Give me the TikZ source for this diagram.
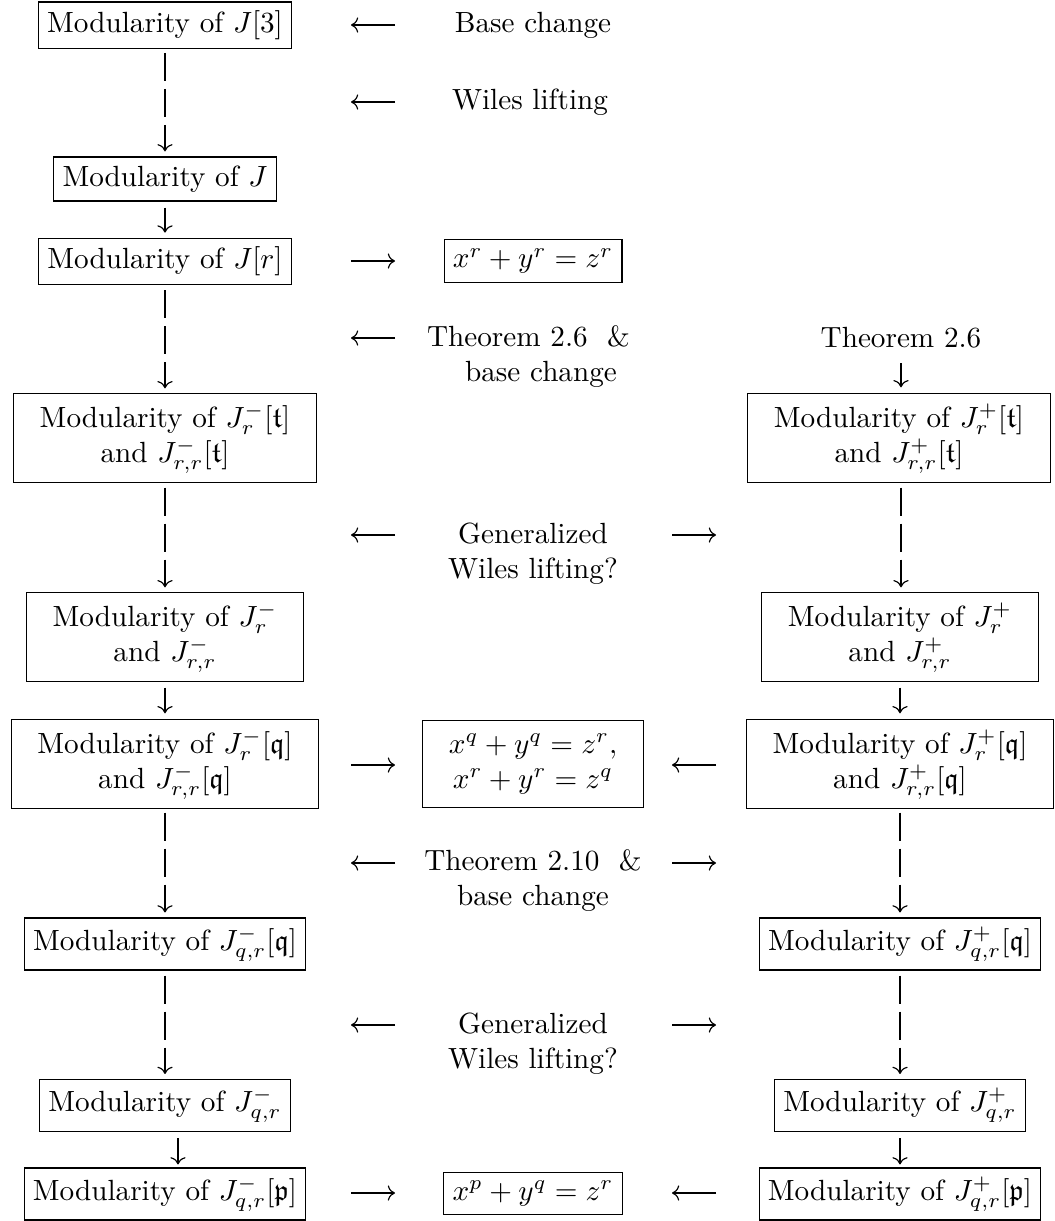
\documentclass[tikz,border=0pt]{standalone}
\usepackage{amsmath,amssymb}
\usetikzlibrary{arrows.meta}
\begin{document}
\begin{tikzpicture}[x=0.3425pt,y=-0.3425pt,
  box/.style={draw,line width=0.4pt,inner sep=3pt},
  tbox/.style={draw,line width=0.4pt,align=center,inner xsep=9pt,inner ysep=3pt},
  lbl/.style={inner sep=0pt,align=center},
  arr/.style={line width=0.4pt,-{Computer Modern Rightarrow}},
  dconn/.style={arr,dash pattern=on 9.59pt off 2.74pt},
]
\useasboundingbox (0,0) rectangle (1054,1221);

% ---- boxes, left column
\node[box] (j3) at (165,25.3) {Modularity of $J[3]$};
\node[box] (j) at (165,179) {Modularity of $J$};
\node[box] (jr) at (165,261.5) {Modularity of $J[r]$};
\node[tbox] (jmt) at (165,438) {\strut Modularity of $J_r^-[\mathfrak{t}]$\\\strut and $J_{r,r}^-[\mathfrak{t}]$};
\node[tbox] (jm) at (165,637) {\strut Modularity of $J_r^-$\\\strut and $J_{r,r}^-$};
\node[tbox] (jmq) at (165,764) {\strut Modularity of $J_r^-[\mathfrak{q}]$\\\strut and $J_{r,r}^-[\mathfrak{q}]$};
\node[box] (jmqq) at (165,944) {Modularity of $J_{q,r}^-[\mathfrak{q}]$};
\node[box] (jmqr) at (165,1105.5) {Modularity of $J_{q,r}^-$};
\node[box] (jmp) at (165,1194) {Modularity of $J_{q,r}^-[\mathfrak{p}]$};

% ---- boxes, right column
\node[tbox] (jpt) at (899,438) {\strut Modularity of $J_r^+[\mathfrak{t}]$\\\strut and $J_{r,r}^+[\mathfrak{t}]$};
\node[tbox] (jp) at (900,637) {\strut Modularity of $J_r^+$\\\strut and $J_{r,r}^+$};
\node[tbox] (jpq) at (900,764) {\strut Modularity of $J_r^+[\mathfrak{q}]$\\\strut and $J_{r,r}^+[\mathfrak{q}]$};
\node[box] (jpqq) at (900,944) {Modularity of $J_{q,r}^+[\mathfrak{q}]$};
\node[box] (jpqr) at (900,1105.5) {Modularity of $J_{q,r}^+$};
\node[box] (jpp) at (900,1194) {Modularity of $J_{q,r}^+[\mathfrak{p}]$};

% ---- centre column
\node[box] (fr) at (533,261) {$x^r+y^r=z^r$};
\node[tbox] (cq) at (533,764) {\strut$x^q+y^q=z^r,$\\\strut$x^r+y^r=z^q$};
\node[box] (fp) at (533,1193.5) {$x^p+y^q=z^r$};

% ---- labels
\node[lbl] (bc) at (533,25) {Base change};
\node[lbl] (wl) at (530,102) {Wiles lifting};
\node[lbl,align=left] (t26) at (528.5,356.5) {Theorem 2.6\ \ \&\\\hspace*{13pt}base change};
\node[lbl] (t26r) at (901,338) {Theorem 2.6};
\node[lbl] (g1) at (533,554) {Generalized\\Wiles lifting?};
\node[lbl] (t210) at (533,880.5) {Theorem 2.10\ \ \&\\base change};
\node[lbl] (g2) at (533,1043.5) {Generalized\\Wiles lifting?};

% ---- vertical connectors, left
\draw[dconn,shorten <=1.27pt,shorten >=1.7pt] (j3) -- (j);
\draw[arr,shorten <=2.05pt,shorten >=1.7pt] (j) -- (jr);
\draw[dconn,shorten <=1.7pt,shorten >=1.7pt] (jr) -- (jmt);
\draw[dconn,shorten <=1.7pt,shorten >=1.7pt] (jmt) -- (jm);
\draw[arr,shorten <=2.05pt,shorten >=2.05pt] (jm) -- (jmq);
\draw[dconn,shorten <=1.37pt,shorten >=1.7pt] (jmq) -- (jmqq);
\draw[dconn,shorten <=1.7pt,shorten >=1.7pt] (jmqq) -- (jmqr);
\draw[arr,shorten <=2.05pt,shorten >=1.03pt] ([xshift=4.45pt]jmqr.south) -- ([xshift=4.45pt]jmp.north);

% ---- vertical connectors, right
\draw[arr,shorten <=4.8pt,shorten >=2.05pt] (t26r.south) -- (jpt.north -| t26r.south);
\draw[dconn,shorten <=1.7pt,shorten >=1.7pt] (jpt.south -| t26r.south) -- (jp.north -| t26r.south);
\draw[arr,shorten <=2.05pt,shorten >=2.05pt] (jp) -- (jpq);
\draw[dconn,shorten <=1.37pt,shorten >=1.7pt] (jpq) -- (jpqq);
\draw[dconn,shorten <=1.7pt,shorten >=1.7pt] (jpqq) -- (jpqr);
\draw[arr,shorten <=2.05pt,shorten >=1.03pt] (jpqr) -- (jpp);

% ---- horizontal arrows (free ends as coordinates)
\coordinate (l1a) at (351,25);   \coordinate (l1b) at (395,25);
\coordinate (l2a) at (351,102);  \coordinate (l2b) at (395,102);
\coordinate (l3a) at (351,261);  \coordinate (l3b) at (395,261);
\coordinate (l4a) at (351,338);  \coordinate (l4b) at (395,338);
\coordinate (l5a) at (351,535);  \coordinate (l5b) at (395,535);
\coordinate (l6a) at (351,765);  \coordinate (l6b) at (395,765);
\coordinate (l7a) at (351,863);  \coordinate (l7b) at (395,863);
\coordinate (l8a) at (351,1025); \coordinate (l8b) at (395,1025);
\coordinate (l9a) at (351,1193); \coordinate (l9b) at (395,1193);
\coordinate (r5a) at (672,535);  \coordinate (r5b) at (716,535);
\coordinate (r6a) at (672,765);  \coordinate (r6b) at (716,765);
\coordinate (r7a) at (672,863);  \coordinate (r7b) at (716,863);
\coordinate (r8a) at (672,1025); \coordinate (r8b) at (716,1025);
\coordinate (r9a) at (672,1193); \coordinate (r9b) at (716,1193);

\draw[arr] (l1b) -- (l1a);
\draw[arr] (l2b) -- (l2a);
\draw[arr] (l3a) -- (l3b);
\draw[arr] (l4b) -- (l4a);
\draw[arr] (l5b) -- (l5a);
\draw[arr] (l6a) -- (l6b);
\draw[arr] (l7b) -- (l7a);
\draw[arr] (l8b) -- (l8a);
\draw[arr] (l9a) -- (l9b);
\draw[arr] (r5a) -- (r5b);
\draw[arr] (r6b) -- (r6a);
\draw[arr] (r7a) -- (r7b);
\draw[arr] (r8a) -- (r8b);
\draw[arr] (r9b) -- (r9a);
\end{tikzpicture}
\end{document}
